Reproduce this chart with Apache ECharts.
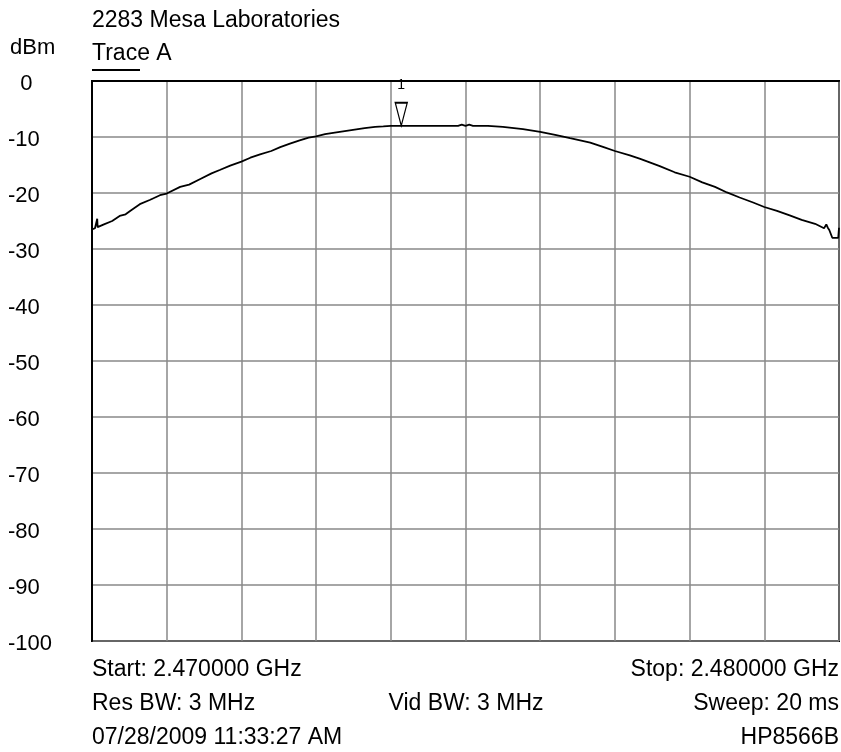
<!DOCTYPE html>
<html>
<head>
<meta charset="utf-8">
<script src="https://cdn.jsdelivr.net/npm/echarts@6/dist/echarts.min.js"></script>
<style>
  html, body { margin: 0; padding: 0; background: #fff; }
  #chart { width: 841px; height: 752px; }
</style>
</head>
<body>
<div id="chart"></div>
<script>
// frequency in MHz, level in dBm
const freqs = [
  2470.00, 2470.04, 2470.065, 2470.07, 2470.075, 2470.16, 2470.27, 2470.37, 2470.45, 2470.51,
  2470.64, 2470.78, 2470.91, 2471.00, 2471.18, 2471.30, 2471.45, 2471.60, 2471.71, 2471.85,
  2472.00, 2472.12, 2472.25, 2472.40, 2472.52, 2472.65, 2472.78, 2472.90, 2473.00, 2473.12,
  2473.25, 2473.45, 2473.65, 2473.79, 2473.90, 2474.00, 2474.14, 2474.50, 2474.90, 2474.95,
  2475.00, 2475.05, 2475.10, 2475.30, 2475.50, 2475.77, 2476.00, 2476.20, 2476.40, 2476.67,
  2476.85, 2477.00, 2477.20, 2477.34, 2477.60, 2477.80, 2478.00, 2478.17, 2478.34, 2478.50,
  2478.67, 2478.85, 2479.00, 2479.17, 2479.34, 2479.50, 2479.68, 2479.80, 2479.83, 2479.85,
  2479.87, 2479.91, 2479.99, 2480.00
];
const levels = [
  -26.5, -26.3, -26.2, -24.6, -26.1, -25.6, -25.0, -24.1, -23.8, -23.2,
  -22.0, -21.2, -20.4, -20.1, -18.9, -18.5, -17.5, -16.5, -15.9, -15.1,
  -14.4, -13.7, -13.1, -12.5, -11.8, -11.2, -10.6, -10.1, -9.9, -9.5,
  -9.2, -8.8, -8.4, -8.2, -8.1, -8.0, -8.0, -8.0, -8.0, -7.8,
  -8.0, -7.8, -8.0, -8.0, -8.2, -8.6, -9.1, -9.6, -10.2, -11.0,
  -11.8, -12.5, -13.3, -13.9, -15.2, -16.3, -17.1, -18.1, -18.9, -19.9,
  -20.8, -21.7, -22.5, -23.2, -24.0, -24.8, -25.5, -26.3, -25.6, -26.2,
  -26.6, -28.0, -28.0, -26.2
];
const markerFreq = 2474.14;
const markerLevel = -8.0;
const yTicks = [0, -10, -20, -30, -40, -50, -60, -70, -80, -90, -100];

const chart = echarts.init(document.getElementById('chart'));
const font = 'Liberation Sans, Arial, sans-serif';
const txt = (x, y, text, align) => ({
  type: 'text', x: x, y: y,
  style: { text: text, font: '23px ' + font, fill: '#000', textAlign: align || 'left', textVerticalAlign: 'middle' }
});

const option = {
  backgroundColor: '#fff',
  animation: false,
  grid: { left: 92, top: 81, right: 2, bottom: 111, show: true, borderColor: '#000', borderWidth: 2 },
  xAxis: {
    type: 'value', min: 2470, max: 2480, interval: 1,
    axisLine: { lineStyle: { color: '#000', width: 2 } },
    axisTick: { show: false }, axisLabel: { show: false },
    splitLine: { show: true, lineStyle: { color: '#888', width: 1.5 } }
  },
  yAxis: {
    type: 'value', min: -100, max: 0, interval: 10,
    axisLine: { show: true, lineStyle: { color: '#000', width: 2 } },
    axisTick: { show: false },
    axisLabel: {
      align: 'left', margin: 84, color: '#000', fontSize: 22, fontFamily: font,
      formatter: v => (yTicks.indexOf(v) >= 0 ? '{t|' + (v === 0 ? '  0' : String(v)) + '}' : ''),
      rich: { t: { fontSize: 22, fontFamily: font, color: '#000', padding: [6, 0, 0, 0] } }
    },
    splitLine: { show: true, lineStyle: { color: '#888', width: 1.5 } }
  },
  series: [{
    type: 'line',
    data: freqs.map((f, i) => [f, levels[i]]),
    showSymbol: false,
    lineStyle: { color: '#000', width: 1.8 },
    markPoint: {
      symbol: 'triangle', symbolRotate: 180, symbolSize: [12, 23], symbolOffset: [0, -11.5],
      itemStyle: { color: 'rgba(0,0,0,0)', borderColor: '#000', borderWidth: 1.5 },
      label: { show: true, position: 'top', distance: 10, formatter: '1', color: '#000', fontSize: 14, fontFamily: font },
      data: [{ coord: [markerFreq, markerLevel] }]
    }
  }],
  graphic: [
    txt(92, 21, '2283 Mesa Laboratories'),
    txt(92, 54, 'Trace A'),
    { type: 'line', shape: { x1: 92, y1: 70, x2: 140, y2: 70 }, style: { stroke: '#000', lineWidth: 2 } },
    { type: 'text', x: 10, y: 48, style: { text: 'dBm', font: '22px ' + font, fill: '#000', textVerticalAlign: 'middle' } },
    txt(92, 670, 'Start: 2.470000 GHz'),
    txt(839, 670, 'Stop: 2.480000 GHz', 'right'),
    txt(92, 704, 'Res BW: 3 MHz'),
    txt(466, 704, 'Vid BW: 3 MHz', 'center'),
    txt(839, 704, 'Sweep: 20 ms', 'right'),
    txt(92, 738, '07/28/2009 11:33:27 AM'),
    txt(839, 738, 'HP8566B', 'right')
  ]
};
chart.setOption(option);
</script>
</body>
</html>
